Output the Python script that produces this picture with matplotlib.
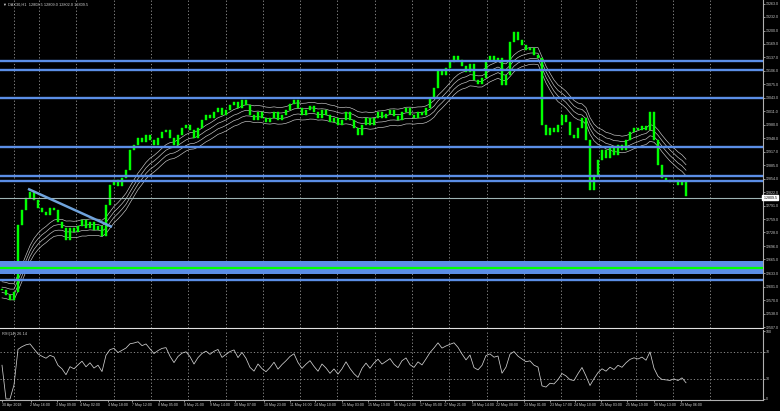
import numpy as np
import pandas as pd
import matplotlib
matplotlib.use("Agg")
import matplotlib.pyplot as plt

# ---- data ----
closes = [12594, 12582, 12570, 12589, 12745, 12780, 12808, 12822, 12804, 12785,
          12776, 12769, 12785, 12780, 12752, 12738, 12710, 12738, 12729, 12743,
          12757, 12738, 12752, 12734, 12743, 12720, 12792, 12839, 12851, 12837,
          12855, 12874, 12921, 12932, 12949, 12939, 12956, 12944, 12932, 12949,
          12963, 12968, 12949, 12932, 12956, 12972, 12979, 12968, 12949, 12972,
          12991, 13003, 12996, 13010, 13019, 13003, 13014, 13026, 13033, 13019,
          13038, 13026, 13003, 12991, 13010, 12996, 12986, 12996, 13010, 12991,
          13003, 13014, 13028, 13038, 13019, 13003, 13014, 13024, 13010, 12996,
          13014, 13003, 12986, 12996, 12979, 12991, 13010, 12991, 12972, 12956,
          12979, 12996, 12979, 12996, 13010, 12996, 13005, 13014, 13000, 12991,
          13010, 13019, 13003, 12996, 13010, 13003, 13019, 13042, 13066, 13108,
          13096, 13112, 13126, 13140, 13131, 13117, 13103, 13122, 13084, 13075,
          13089, 13131, 13140, 13131, 13136, 13073, 13096, 13173, 13197, 13178,
          13166, 13155, 13159, 13143, 13136, 12979, 12956, 12972, 12963, 12979,
          13003, 12986, 12956, 12949, 12972, 12996, 12944, 12827, 12862, 12897,
          12921, 12902, 12925, 12909, 12932, 12921, 12944, 12963, 12972, 12968,
          12977, 12968, 13010, 12944, 12886, 12855, 12851, 12846, 12851, 12839,
          12846, 12813]

time_labels = ["30 Apr 2018", "2 May 16:00", "3 May 09:00", "4 May 02:00", "4 May 18:00",
               "7 May 12:00", "8 May 05:00", "8 May 21:00", "9 May 14:00", "10 May 07:00",
               "10 May 23:00", "11 May 16:00", "14 May 10:00", "15 May 03:00", "15 May 19:00",
               "16 May 12:00", "17 May 05:00", "17 May 21:00", "18 May 14:00", "22 May 08:00",
               "23 May 01:00", "23 May 17:00", "24 May 10:00", "25 May 03:00", "25 May 19:00",
               "28 May 13:00", "29 May 06:00"]

price_ticks = [13263.0, 13232.0, 13200.0, 13169.0, 13137.0, 13106.0, 13075.0, 13043.0,
               13011.0, 12980.0, 12948.0, 12917.0, 12885.0, 12854.0, 12822.0, 12791.0,
               12759.0, 12728.0, 12696.0, 12665.0, 12633.0, 12601.0, 12570.0, 12538.0, 12507.0]

resistance_levels = [13129, 13108, 13042, 12928, 12860, 12848]
zone_low, zone_high = 12631, 12661
zone_mid = 12645
support_level = 12617
bid_price = 12809.5

trend_start = (6.5, 12830)
trend_end = (27.5, 12741)

rsi_levels = [70, 30]
rsi_ticks = [100, 70, 30, 0]

title_text = "\u25BC DAX30,H1  12808.5 12809.0 12802.0 12809.5"
rsi_text = "RSI(14) 26.14"

# ---- derived indicators ----
s = pd.Series(closes, dtype=float)
ema = s.ewm(span=14, adjust=False).mean()
ribbon_offsets = [-0.0015, -0.0005, 0.0005, 0.0015]

delta = s.diff()
gain = delta.clip(lower=0).ewm(alpha=1/7, adjust=False).mean()
loss = (-delta.clip(upper=0)).ewm(alpha=1/7, adjust=False).mean()
rsi = 100 - 100 / (1 + gain / loss.replace(0, np.nan))
rsi = rsi.fillna(50)

# ---- figure ----
plt.rcParams["font.family"] = ["Liberation Sans", "DejaVu Sans"]
W, H = 780, 411
fig = plt.figure(figsize=(W / 100, H / 100), dpi=100, facecolor="black")
ax = fig.add_axes([0, 83 / H, 763 / W, 328 / H], facecolor="black")
ax2 = fig.add_axes([0, 11 / H, 763 / W, 70 / H], facecolor="black")

x = np.arange(len(closes))
opens = np.r_[closes[0], closes[:-1]]
c = np.array(closes, dtype=float)
bottoms = np.minimum(opens, c)
heights = np.maximum(np.abs(c - opens), 2.5)
ax.bar(x, heights, bottom=bottoms, width=0.5, color="#00ff00", edgecolor="#00ff00",
       linewidth=0.3, zorder=3)

# moving average ribbon
for off in ribbon_offsets:
    ax.plot(x, ema * (1 + off), color="#cfcfcf", lw=0.45, zorder=2)

# horizontal levels
blue = "#5b8ee6"
for lv in resistance_levels:
    ax.axhline(lv, color=blue, lw=1.7, zorder=4)
ax.axhspan(zone_low, zone_high, color=blue, zorder=4, lw=0)
ax.axhline(zone_mid, color="#00ff00", lw=1.6, zorder=5)
ax.axhline(support_level, color=blue, lw=1.7, zorder=4)
ax.axhline(bid_price, color="#9fb4b4", lw=0.8, zorder=4)

# trend line
ax.plot([trend_start[0], trend_end[0]], [trend_start[1], trend_end[1]],
        color="#6fa3dc", lw=1.8, zorder=6, solid_capstyle="butt")

# axes limits
xlim = (-0.5, 190.25)
ax.set_xlim(*xlim)
ax2.set_xlim(*xlim)
ax.set_ylim(12504.8, 13271.3)
ax2.set_ylim(-1.5, 102.2)

# vertical dotted grid (day separators)
grid_px = [14] + [39 + 37.3 * k for k in range(19)]
grid_idx = [(p - 2) / 4 for p in grid_px]
for a in (ax, ax2):
    for g in grid_idx:
        a.axvline(g, color="#9a9a9a", lw=0.6, ls=(0, (1.5, 2.5)), zorder=1)

# RSI
ax2.plot(x, rsi, color="#d0d0d0", lw=0.55, zorder=3)
for lv in rsi_levels:
    ax2.axhline(lv, color="#9a9a9a", lw=0.6, ls=(0, (1.5, 2.5)), zorder=1)

txtc = "#d0d0d0"
fs = 2.6
# price axis on right
ax.yaxis.tick_right()
ax.set_yticks(price_ticks)
ax.set_yticklabels([f"{v:.1f}" for v in price_ticks], fontsize=fs, color=txtc)
ax.tick_params(axis="y", length=1.5, width=0.5, color=txtc, pad=0.8)
ax.set_xticks([])

ax2.yaxis.tick_right()
ax2.set_yticks(rsi_ticks)
ax2.set_yticklabels([str(v) for v in rsi_ticks], fontsize=fs, color=txtc)
ax2.tick_params(axis="y", length=1.5, width=0.5, color=txtc, pad=0.8)

label_px = [0, 29, 55, 78, 106, 130, 157, 182, 208, 233, 262, 288, 313, 340, 366, 392,
            418, 443, 470, 495, 522, 548, 573, 599, 625, 652, 679]
label_idx = [(p - 0.5) / 4 for p in label_px]
ax2.set_xticks(label_idx)
ax2.set_xticklabels(time_labels, fontsize=fs, color=txtc, ha="left")
ax2.tick_params(axis="x", length=1.5, width=0.5, color=txtc, pad=1)

for a in (ax, ax2):
    for sp in a.spines.values():
        sp.set_color("#b0b0b0")
        sp.set_linewidth(0.8)
    a.spines["left"].set_visible(False)
ax.spines["top"].set_visible(False)
ax.spines["bottom"].set_color("#e0e0e0")
ax2.spines["top"].set_visible(False)

# current price box
ax.text(1.0, bid_price, f" {bid_price:.1f}", transform=ax.get_yaxis_transform(),
        fontsize=fs, color="black", va="center", ha="left",
        bbox=dict(boxstyle="square,pad=0.15", fc="white", ec="white"), zorder=10,
        clip_on=False)

ax.text(0.004, 0.992, title_text, transform=ax.transAxes, fontsize=fs + 0.2, color=txtc,
        va="top", ha="left")
ax2.text(0.003, 0.97, rsi_text, transform=ax2.transAxes, fontsize=fs + 0.2, color=txtc,
         va="top", ha="left")

fig.savefig("out.png", dpi=100, facecolor="black")
